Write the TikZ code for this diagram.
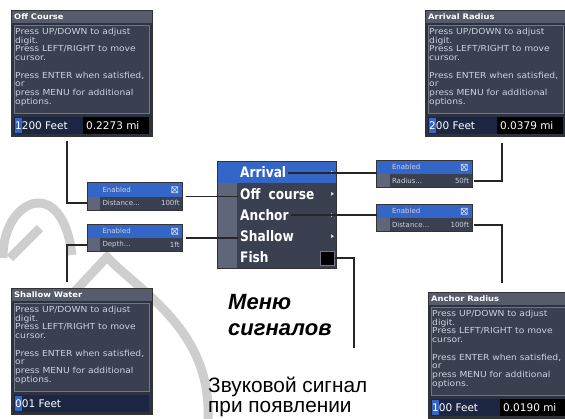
\documentclass[tikz,border=0pt]{standalone}
\usepackage{fontspec}
\setmainfont{Liberation Sans}
\newfontfamily\lcdfont{DejaVu Sans}
\newfontfamily\lcdwide[FakeStretch=1.1]{DejaVu Sans}
\newfontfamily\menufont[FakeStretch=0.84]{DejaVu Sans}
\usetikzlibrary{calc}
\usepackage{xcolor}

\definecolor{lcdbg}{RGB}{44,50,64}
\definecolor{lcdtitle}{RGB}{86,92,108}
\definecolor{lcdpanel}{RGB}{58,64,80}
\definecolor{lcdedge}{RGB}{112,118,132}
\definecolor{lcdtext}{RGB}{205,210,222}
\definecolor{lcdblue}{RGB}{52,102,200}
\definecolor{lcdnavy}{RGB}{28,38,66}
\definecolor{lcdside}{RGB}{96,102,122}
\definecolor{wmark}{RGB}{206,206,206}

\tikzset{
  screen/.style={fill=lcdbg, minimum width=141pt, minimum height=126pt, inner sep=0pt},
  popup/.style={minimum width=95pt, minimum height=27pt, inner sep=0pt},
  menubox/.style={fill=lcdpanel, minimum width=118pt, minimum height=106pt, inner sep=0pt},
  edge line/.style={draw=black!80, line width=0.9pt},
  link/.style={draw=black!85, line width=1.8pt},
  wmark stroke/.style={draw=wmark, line width=9pt},
  lcd title/.style={text=white, font=\lcdwide\bfseries\fontsize{7.6}{8}\selectfont, inner sep=0pt},
  lcd body/.style={text=lcdtext, align=left, font=\lcdwide\fontsize{8.3}{8.7}\selectfont, inner sep=0pt},
  lcd value/.style={text=white, font=\lcdfont\fontsize{10.5}{10.5}\selectfont, inner sep=0pt},
  pop text/.style={text=lcdtext, font=\lcdfont\fontsize{7}{7}\selectfont, inner sep=0pt},
  pop icon/.style={draw=lcdtext, line width=0.7pt},
  menu text/.style={text=white, font=\menufont\bfseries\fontsize{14.5}{14.5}\selectfont, inner sep=0pt, text height=10.5pt, text depth=0pt},
  caption big/.style={font=\bfseries\itshape\fontsize{22}{26}\selectfont, inner sep=0pt},
  caption small/.style={font=\fontsize{20.8}{20.8}\selectfont, inner sep=0pt},
}

% screen: name, x, y, title, cursor digit, rest, miles
\newcommand{\lcdscreen}[7]{%
  \node[screen, anchor=north west] (#1) at (#2,#3) {};
  \fill[lcdtitle] (#2,#3) rectangle ++(141,13);
  \node[lcd title, anchor=west] (#1-t) at ({#2+3},{#3+6.5}) {#4};
  \draw[lcdedge, fill=lcdpanel, line width=0.6pt] ({#2+3},{#3+15}) rectangle ++(135,88);
  \node[lcd body, anchor=north west] (#1-m) at ({#2+4},{#3+18})
    {Press UP/DOWN to adjust\\digit.\\Press LEFT/RIGHT to move\\cursor.\\[8.7pt]Press ENTER when satisfied,\\or\\press MENU for additional\\options.};
  \fill[lcdnavy] ({#2+3},{#3+107}) rectangle ++(135,17);
  \fill[lcdblue] ({#2+3.5},{#3+108}) rectangle ++(7,15);
  \node[lcd value, anchor=west] (#1-v) at ({#2+4},{#3+115.5}) {#5#6};
  \def\lcdmiles{#7}%
  \ifx\lcdmiles\empty\else
    \fill[black] ({#2+72},{#3+107}) rectangle ++(66,17);
    \node[lcd value, anchor=west] (#1-mi) at ({#2+75},{#3+115.5}) {#7};
  \fi
  \draw[edge line] (#1.north west) rectangle (#1.south east);
}

% popup: name, x, y, label, value
\newcommand{\lcdpopup}[5]{%
  \node[popup] (#1) at (#2,#3) {};
  \fill[lcdblue] (#1.north west) rectangle (#1.east);
  \fill[lcdpanel] (#1.west) rectangle (#1.south east);
  \fill[lcdside] (#1.west) rectangle ([xshift=13pt]#1.south west);
  \node[pop text, anchor=west] (#1-on) at ([xshift=15pt,yshift=6.75pt]#1.west) {Enabled};
  \node[pop text, anchor=west] (#1-lb) at ([xshift=15pt,yshift=-6.75pt]#1.west) {#4};
  \node[pop text, anchor=east] (#1-val) at ([xshift=-3pt,yshift=-6.75pt]#1.east) {#5};
  \coordinate (#1-chk) at ([xshift=-8pt,yshift=6.75pt]#1.east);
  \draw[pop icon] ([xshift=-3pt,yshift=-3pt]#1-chk) rectangle ([xshift=3pt,yshift=3pt]#1-chk)
    ([xshift=-3pt,yshift=-3pt]#1-chk) -- ([xshift=3pt,yshift=3pt]#1-chk)
    ([xshift=-3pt,yshift=3pt]#1-chk) -- ([xshift=3pt,yshift=-3pt]#1-chk);
  \draw[edge line] (#1.north west) rectangle (#1.south east);
}

\begin{document}
\begin{tikzpicture}[x=1pt, y=-1pt]
    \useasboundingbox (0,0) rectangle (565,418);
    \clip (0,0) rectangle (565,418);

    % watermark in the background
    \draw[wmark stroke] (3,258) .. controls (2,200) and (62,172) .. (72,255);
    \draw[wmark stroke] (10,258) -- (40,228);
    \draw[wmark stroke] (62,305) -- (107,257) .. controls (140,292) and (212,330) .. (208,420);

    % the four setting screens
    \lcdscreen{offscr}{11}{10}{Off Course}{1}{200 Feet}{0.2273 mi}
    \lcdscreen{arrscr}{425}{10}{Arrival Radius}{2}{00 Feet}{0.0379 mi}
    \lcdscreen{shlscr}{11}{288}{Shallow Water}{0}{01 Feet}{}
    \lcdscreen{ancscr}{428}{292}{Anchor Radius}{1}{00 Feet}{0.0190 mi}

    % alarms menu
    \node[menubox] (menu) at (277,215) {};
    \fill[lcdside] (menu.north west) rectangle ++(19,106);
    \fill[lcdblue] (menu.north west) rectangle ++(118,21.2);
    \node[menu text, anchor=west] (marr) at (240,172.6) {Arrival};
    \node[menu text, anchor=west] (moff) at (240,193.8) {Off\hspace{4pt} course};
    \node[menu text, anchor=west] (manc) at (240,215) {Anchor};
    \node[menu text, anchor=west] (mshl) at (240,236.2) {Shallow};
    \node[menu text, anchor=west] (mfsh) at (240,257.4) {Fish};
    \foreach \r in {0,...,3}
        \fill[lcdtext] (331,{170.6+21.2*\r}) -- ++(3,2) -- ++(-3,2) -- cycle;
    \node[draw=lcdedge, fill=black, line width=1pt, minimum size=14pt, inner sep=0pt] (fishbox) at (327,258) {};
    \draw[edge line] (menu.north west) rectangle (menu.south east);

    % small popups
    \lcdpopup{popoff}{135}{196.5}{Distance...}{100ft}
    \lcdpopup{popshl}{135}{238}{Depth...}{1ft}
    \lcdpopup{poparr}{424.5}{174}{Radius...}{50ft}
    \lcdpopup{popanc}{424.5}{218}{Distance...}{100ft}

    % connectors
    \draw[link] ([xshift=-14.5pt,yshift=-5pt]offscr.south) |- ([yshift=-6.75pt]popoff.west);
    \draw[link, shorten <=3pt, shorten >=2pt] (popoff.east) -- (popoff.east -| moff.west);
    \draw[link, shorten <=3pt, shorten >=2pt] (popshl.east) -- (popshl.east -| mshl.west);
    \draw[link] ([yshift=-6.75pt]popshl.west) -| ([xshift=-14.5pt,yshift=6pt]shlscr.north);
    \draw[link, shorten <=2pt] (marr.east) -- (marr.east -| poparr.west);
    \draw[link] ([xshift=2pt,yshift=-6.75pt]poparr.east) -| ([xshift=6.5pt,yshift=-7pt]arrscr.south);
    \draw[link, shorten <=2pt] (manc.east) -- (manc.east -| popanc.west);
    \draw[link] ([xshift=2pt,yshift=-6.75pt]popanc.east) -| ([xshift=3.5pt,yshift=9pt]ancscr.north);
    \coordinate (fishend) at (354,348);
    \draw[link] (fishbox.east) -| (fishend);

    % captions
    \node[caption big, anchor=base west] (mtitle) at (228,309) {Меню};
    \node[caption big, anchor=base west] (mtitle2) at (228,335) {сигналов};
    \node[caption small, anchor=base west] (snd1) at (208,392) {Звуковой сигнал};
    \node[caption small, anchor=base west] (snd2) at (208,412) {при появлении};
\end{tikzpicture}
\end{document}
